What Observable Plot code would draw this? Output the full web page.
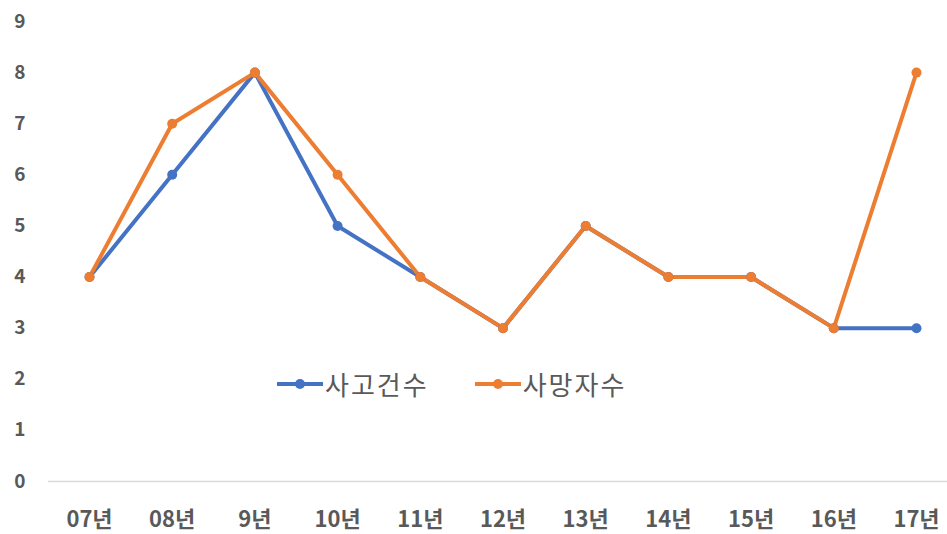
<!DOCTYPE html>
<html><head><meta charset="utf-8">
<script src="https://cdn.jsdelivr.net/npm/d3@7"></script>
<script src="https://cdn.jsdelivr.net/npm/@observablehq/plot@0.6"></script>
<style>
body{margin:0;background:#fff;font-family:"Noto Sans CJK KR","Noto Sans",sans-serif;}
#wrap{position:relative;width:947px;height:534px;}
#legend{position:absolute;left:277px;top:365px;display:flex;align-items:center;font-size:26px;letter-spacing:2px;color:#595959;font-family:"Noto Sans CJK KR",sans-serif;}
#legend .item{display:flex;align-items:center;}
#legend svg{display:block;}
</style></head>
<body><div id="wrap"><div id="legend"></div></div>
<script>
const years = ["07년","08년","9년","10년","11년","12년","13년","14년","15년","16년","17년"];
const accidents = [4,6,8,5,4,3,5,4,4,3,3];
const deaths = [4,7,8,6,4,3,5,4,4,3,8];
const seriesNames = ["사고건수","사망자수"];
const colors = ["#4472C4","#ED7D31"];
const yTicks = [0,1,2,3,4,5,6,7,8,9];

const data = [];
years.forEach((y,i)=>{
  data.push({year:y, value:accidents[i], series:seriesNames[0]});
});
years.forEach((y,i)=>{
  data.push({year:y, value:deaths[i], series:seriesNames[1]});
});

const plot = Plot.plot({
  width:947, height:534,
  marginLeft:89, marginRight:31, marginTop:21, marginBottom:53,
  style:{fontFamily:'"Noto Sans CJK KR","Noto Sans",sans-serif', background:"#fff"},
  x:{type:"point", domain:years, padding:0, round:false, label:null},
  y:{domain:[0,9], label:null},
  color:{domain:seriesNames, range:colors},
  marks:[
    Plot.ruleY([0],{stroke:"#d9d9d9", strokeWidth:1.5, insetLeft:-41, insetRight:-31}),
    Plot.axisY({ticks:yTicks, tickSize:0, tickPadding:64, fontSize:19, fontWeight:"bold", fill:"#595959", label:null}),
    Plot.axisX({tickSize:0, tickPadding:30, fontSize:22, fontWeight:"bold", fill:"#595959", label:null}),
    Plot.line(data,{x:"year", y:"value", stroke:"series", z:"series", strokeWidth:4}),
    Plot.dot(data,{x:"year", y:"value", fill:"series", r:5})
  ]
});
document.getElementById("wrap").prepend(plot);

const legend = document.getElementById("legend");
seriesNames.forEach((name,i)=>{
  const item = document.createElement("div");
  item.className="item";
  item.style.marginRight = i===0 ? "46px" : "0";
  item.innerHTML = `<svg width="46" height="20"><line x1="0" y1="10" x2="46" y2="10" stroke="${colors[i]}" stroke-width="4"/><circle cx="23" cy="10" r="5" fill="${colors[i]}"/></svg><span style="margin-left:2px">${name}</span>`;
  legend.appendChild(item);
});
</script></body></html>
